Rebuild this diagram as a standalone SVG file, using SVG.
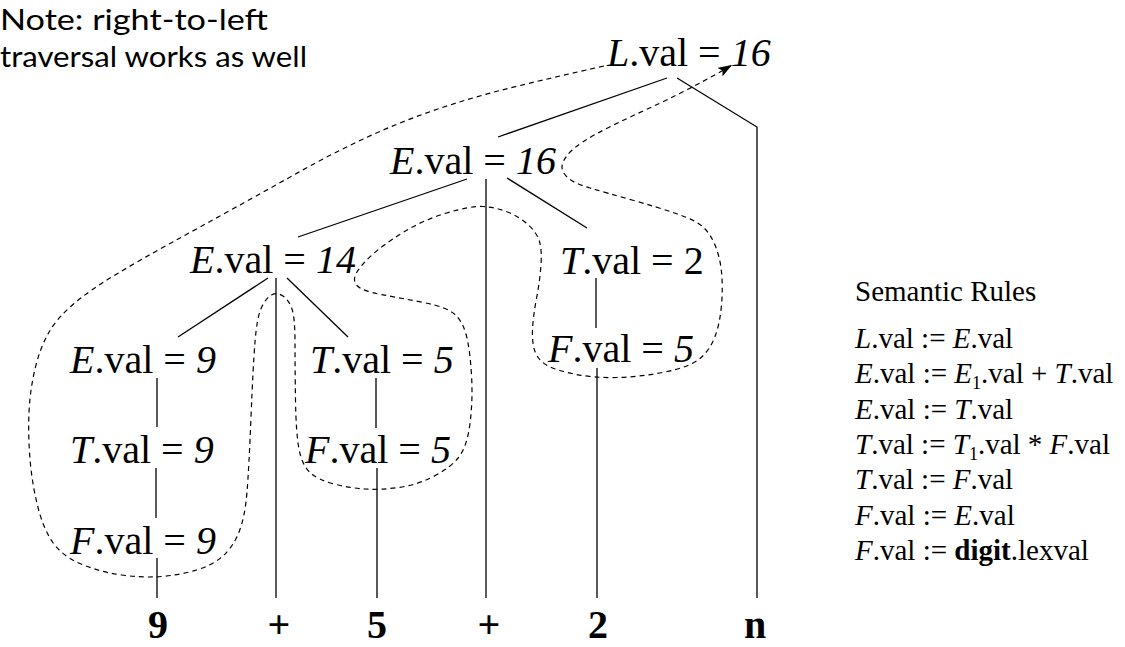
<svg xmlns="http://www.w3.org/2000/svg" width="1125" height="647" viewBox="0 0 1125 647">
<style>
.n{font-family:"Liberation Serif","Times New Roman",serif;font-size:40px;fill:#000}
.i{font-style:italic}
.leaf{font-family:"Liberation Serif","Times New Roman",serif;font-size:40px;font-weight:bold;text-anchor:middle;fill:#000}
.r{font-family:"Liberation Serif","Times New Roman",serif;font-size:29px;fill:#000}
.note{font-family:Lato,"Open Sans",sans-serif;font-size:28px;fill:#000}
.e{stroke:#000;stroke-width:1.3;fill:none}
.d{stroke:#000;stroke-width:1.2;fill:none;stroke-dasharray:5,4}
</style>
<defs>
<marker id="ah" viewBox="0 0 14 10" refX="14" refY="5" markerWidth="14" markerHeight="10" markerUnits="userSpaceOnUse" orient="auto">
<path d="M0,0 L14,5 L0,10 L3,5 z" fill="#000"/>
</marker>
</defs>
<rect width="1125" height="647" fill="#fff"/>

<g id="note">
<text class="note" x="0" y="30" textLength="268" lengthAdjust="spacingAndGlyphs">Note: right-to-left</text>
<text class="note" x="0" y="67" textLength="307" lengthAdjust="spacingAndGlyphs">traversal works as well</text>
</g>

<g id="connectors">
<line class="e" x1="498" y1="137" x2="667" y2="78"/>
<polyline class="e" points="677,78 757,127 757,598"/>
<line class="e" x1="298" y1="237" x2="467" y2="179"/>
<line class="e" x1="486" y1="179" x2="486" y2="598"/>
<line class="e" x1="507" y1="178" x2="587" y2="228"/>
<line class="e" x1="268" y1="278" x2="178" y2="337"/>
<line class="e" x1="276" y1="278" x2="276" y2="598"/>
<line class="e" x1="287" y1="278" x2="348" y2="337"/>
<line class="e" x1="157" y1="378" x2="157" y2="427"/>
<line class="e" x1="156" y1="468" x2="156" y2="518"/>
<line class="e" x1="157" y1="558" x2="157" y2="598"/>
<line class="e" x1="376" y1="378" x2="376" y2="428"/>
<line class="e" x1="377" y1="468" x2="377" y2="598"/>
<line class="e" x1="596" y1="278" x2="596" y2="328"/>
<line class="e" x1="597" y1="368" x2="597" y2="598"/>
<path id="traversal" class="d" marker-end="url(#ah)" d="M604,66 Q533,82 500,90.5 Q467,99 433.5,110.5 Q400,122 366.5,137.5 Q333,153 300,171.5 Q267,190 233.5,208.5 Q200,227 170,243.5 Q140,260 115,275 Q90,290 73.5,304 Q57,318 48.5,333 Q40,348 35,369 Q30,390 29,412.5 Q28,435 30,459 Q32,483 37.5,505.5 Q43,528 52.5,542 Q62,556 81,564 Q100,572 121.5,575 Q143,578 161.5,576.5 Q180,575 196.5,570 Q213,565 223,556 Q233,547 239,532 Q245,517 247,492 Q249,467 251,417 Q253,367 255,342 Q257,317 261.5,307.5 Q266,298 271.5,295 Q277,292 283,296 Q289,300 292,309 Q295,318 295,342.5 Q295,367 295.5,400 Q296,433 299,449 Q302,465 310,472.5 Q318,480 334,484 Q350,488 365,489 Q380,490 398.5,487.5 Q417,485 433.5,476.5 Q450,468 458.5,457.5 Q467,447 470,423.5 Q473,400 471.5,375 Q470,350 466.5,336 Q463,322 455,314.5 Q447,307 423.5,302.5 Q400,298 381,294.5 Q362,291 357,285.5 Q352,280 357,272 Q362,264 372.5,254.5 Q383,245 403,232.5 Q423,220 446.5,213 Q470,206 482.5,206.5 Q495,207 507.5,212 Q520,217 528.5,225 Q537,233 539.5,241.5 Q542,250 541,265 Q540,280 536.5,298.5 Q533,317 532.5,330 Q532,343 535,351.5 Q538,360 546.5,365 Q555,370 574,374 Q593,378 616.5,377.5 Q640,377 665,372 Q690,367 700,358.5 Q710,350 715,336.5 Q720,323 721.5,305 Q723,287 721.5,272 Q720,257 715,245 Q710,233 702.5,226.5 Q695,220 676,213.5 Q657,207 632,200 Q607,193 590,188 Q573,183 567.5,177.5 Q562,172 562,167 Q562,162 567,155.5 Q572,149 583.5,141.5 Q595,134 612.5,125.5 Q630,117 648.5,108.5 Q667,100 688.5,89 Q710,78 732,65"/>
</g>

<g id="node-L"><text class="n" x="607" y="66"><tspan class="i">L</tspan>.val = <tspan class="i">16</tspan></text></g>
<g id="node-E16"><text class="n" x="390" y="174"><tspan class="i">E</tspan>.val = <tspan class="i">16</tspan></text></g>
<g id="node-E14"><text class="n" x="190" y="273"><tspan class="i">E</tspan>.val = <tspan class="i">14</tspan></text></g>
<g id="node-T2"><text class="n" x="560" y="274"><tspan class="i">T</tspan>.val = 2</text></g>
<g id="node-E9"><text class="n" x="70" y="373"><tspan class="i">E</tspan>.val = <tspan class="i">9</tspan></text></g>
<g id="node-T5"><text class="n" x="310" y="373"><tspan class="i">T</tspan>.val = <tspan class="i">5</tspan></text></g>
<g id="node-F5r"><text class="n" x="548" y="362"><tspan class="i">F</tspan>.val = <tspan class="i">5</tspan></text></g>
<g id="node-T9"><text class="n" x="70" y="463"><tspan class="i">T</tspan>.val = <tspan class="i">9</tspan></text></g>
<g id="node-F5m"><text class="n" x="305" y="463"><tspan class="i">F</tspan>.val = <tspan class="i">5</tspan></text></g>
<g id="node-F9"><text class="n" x="70" y="554"><tspan class="i">F</tspan>.val = <tspan class="i">9</tspan></text></g>

<g id="leaf-9"><text class="leaf" x="158" y="638">9</text></g>
<g id="leaf-plus1"><text class="leaf" x="279" y="638">+</text></g>
<g id="leaf-5"><text class="leaf" x="377" y="638">5</text></g>
<g id="leaf-plus2"><text class="leaf" x="489" y="638">+</text></g>
<g id="leaf-2"><text class="leaf" x="598" y="638">2</text></g>
<g id="leaf-n"><text class="leaf" x="755" y="638">n</text></g>

<g id="rules">
<text class="r" x="855" y="301">Semantic Rules</text>
<text class="r" x="855" y="348"><tspan class="i">L</tspan>.val := <tspan class="i">E</tspan>.val</text>
<text class="r" x="855" y="383"><tspan class="i">E</tspan>.val := <tspan class="i">E</tspan><tspan font-size="18" dy="6">1</tspan><tspan dy="-6">.val + </tspan><tspan class="i">T</tspan>.val</text>
<text class="r" x="855" y="419"><tspan class="i">E</tspan>.val := <tspan class="i">T</tspan>.val</text>
<text class="r" x="855" y="454"><tspan class="i">T</tspan>.val := <tspan class="i">T</tspan><tspan font-size="18" dy="6">1</tspan><tspan dy="-6">.val * </tspan><tspan class="i">F</tspan>.val</text>
<text class="r" x="855" y="489"><tspan class="i">T</tspan>.val := <tspan class="i">F</tspan>.val</text>
<text class="r" x="855" y="525"><tspan class="i">F</tspan>.val := <tspan class="i">E</tspan>.val</text>
<text class="r" x="855" y="560"><tspan class="i">F</tspan>.val := <tspan font-weight="bold">digit</tspan>.lexval</text>
</g>
</svg>
